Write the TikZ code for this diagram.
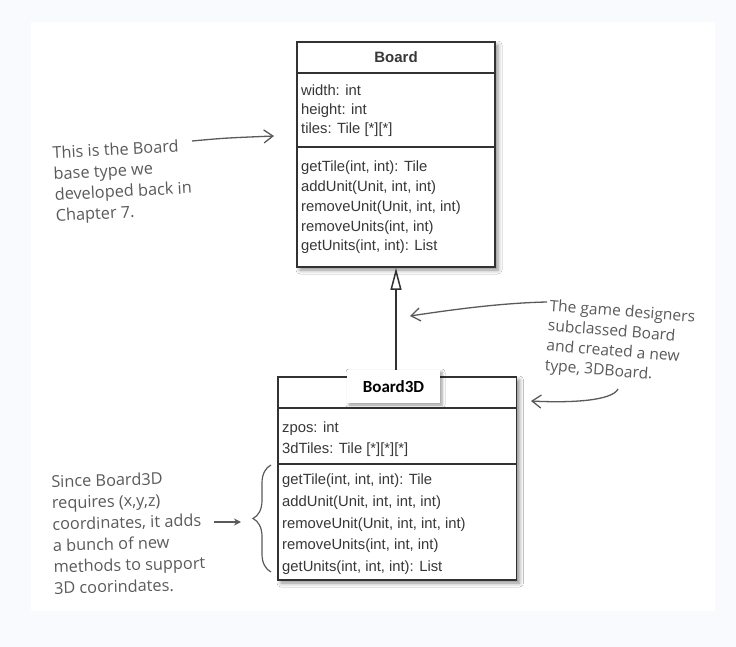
\documentclass[tikz,border=0pt]{standalone}
\usepackage{fontspec}
\setmainfont{Liberation Sans}
\newfontfamily\handfont{Open Sans}
\newfontfamily\labelfont{Carlito}
\usetikzlibrary{arrows.meta,shadows.blur,decorations.pathreplacing}
\definecolor{pagebg}{RGB}{248,250,253}
\definecolor{boxline}{RGB}{50,50,50}
\definecolor{boxtext}{RGB}{55,55,55}
\definecolor{handgray}{RGB}{90,90,90}
\begin{document}
\begin{tikzpicture}[x=1pt,y=-1pt,
  classbox/.style={draw=boxline, line width=1.8pt, fill=white, inner sep=0pt,
    blur shadow={shadow xshift=3pt, shadow yshift=-3pt, shadow blur radius=4pt, shadow opacity=45}},
  sepline/.style={draw=boxline, line width=1.8pt},
  member/.style={anchor=base west, inner sep=0pt, text=boxtext, font=\fontsize{14.8}{18}\selectfont},
  classtitle/.style={inner sep=0pt, text=boxtext, font=\bfseries\fontsize{15}{18}\selectfont},
  labelbox/.style={fill=white, inner sep=0pt, minimum width=93pt, minimum height=33pt,
    font=\labelfont\bfseries\fontsize{17}{20}\selectfont,
    blur shadow={shadow xshift=2pt, shadow yshift=-2pt, shadow blur radius=3pt, shadow opacity=40}},
  inherit/.style={draw=boxline, line width=1.8pt, -{Triangle[open, length=22pt, width=11pt, line width=1.5pt]}},
  note/.style={anchor=north west, inner sep=0pt, align=left, text=handgray},
  handarrow/.style={draw=handgray, line width=1.3pt, -{Straight Barb[length=9pt, width=13pt]}},
  shortarrow/.style={draw=handgray, line width=1.3pt, -{Stealth[length=7pt, width=7pt]}},
  bracestyle/.style={draw=handgray, line width=1.2pt, decorate, decoration={brace, amplitude=18pt}}
]
\useasboundingbox (0,0) rectangle (736,647);
\fill[pagebg] (0,0) rectangle (736,647);
\fill[white] (31,22) rectangle (715,611);

% Board class
\node[classbox, minimum width=198pt, minimum height=225pt] (board) at (396,154.5) {};
\draw[sepline] (board.west |- 0,72.7) -- (board.east |- 0,72.7);
\draw[sepline] (board.west |- 0,147) -- (board.east |- 0,147);
\node[classtitle] (boardtitle) at (396,57.5) {Board};
\node[member] (bw) at (301,96) {width: int};
\node[member] (bh) at (301,115) {height: int};
\node[member] (bt) at (301,134) {tiles: Tile [*][*]};
\node[member] (bm1) at (301,172) {getTile(int, int): Tile};
\node[member] (bm2) at (301,192) {addUnit(Unit, int, int)};
\node[member] (bm3) at (301,211.5) {removeUnit(Unit, int, int)};
\node[member] (bm4) at (301,231) {removeUnits(int, int)};
\node[member] (bm5) at (301,251) {getUnits(int, int): List};

% Board3D class
\node[classbox, minimum width=238.5pt, minimum height=203pt] (board3d) at (397.25,478.5) {};
\draw[sepline] (board3d.west |- 0,408) -- (board3d.east |- 0,408);
\draw[sepline] (board3d.west |- 0,464) -- (board3d.east |- 0,464);
\node[member] (dz) at (282,432) {zpos: int};
\node[member] (dt) at (282,453) {3dTiles: Tile [*][*][*]};
\node[member] (dm1) at (282,484) {getTile(int, int, int): Tile};
\node[member] (dm2) at (282,506) {addUnit(Unit, int, int, int)};
\node[member] (dm3) at (282,528) {removeUnit(Unit, int, int, int)};
\node[member] (dm4) at (282,549) {removeUnits(int, int, int)};
\node[member] (dm5) at (282,571) {getUnits(int, int, int): List};
\node[labelbox] (b3dlabel) at (393.5,386.5) {Board3D};

% inheritance
\draw[inherit] (board.south |- b3dlabel.north) -- (board.south);

% notes
\node[note, rotate=3, font=\handfont\fontsize{16.3}{21}\selectfont] (note1) at (52,146) {This is the Board\\base type we\\developed back in\\Chapter 7.};
\node[note, rotate=-4.5, font=\handfont\fontsize{15.6}{20}\selectfont] (note2) at (550,299) {The game designers\\subclassed Board\\and created a new\\type, 3DBoard.};
\node[note, rotate=1.5, font=\handfont\fontsize{16.3}{21.3}\selectfont] (note3) at (51,475) {Since Board3D\\requires (x,y,z)\\coordinates, it adds\\a bunch of new\\methods to support\\3D coorindates.};

\coordinate (a1s) at (192,141);
\coordinate (a1e) at (274,136);
\draw[handarrow] (a1s) .. controls (225,138) .. (a1e);
\coordinate (a2s) at (547,302);
\coordinate (a2e) at (410,316);
\draw[handarrow] (a2s) .. controls (500,303) and (450,310) .. (a2e);
\coordinate (a3s) at (618,389);
\coordinate (a3e) at (531,401);
\draw[handarrow] (a3s) .. controls (612,401) and (570,403) .. (a3e);
\coordinate (a4s) at (214,522);
\coordinate (a4e) at (241,522);
\draw[shortarrow] (a4s) -- (a4e);
\coordinate (br1) at (271,572);
\coordinate (br2) at (271,465);
\draw[bracestyle] (br1) -- (br2);
\end{tikzpicture}
\end{document}
